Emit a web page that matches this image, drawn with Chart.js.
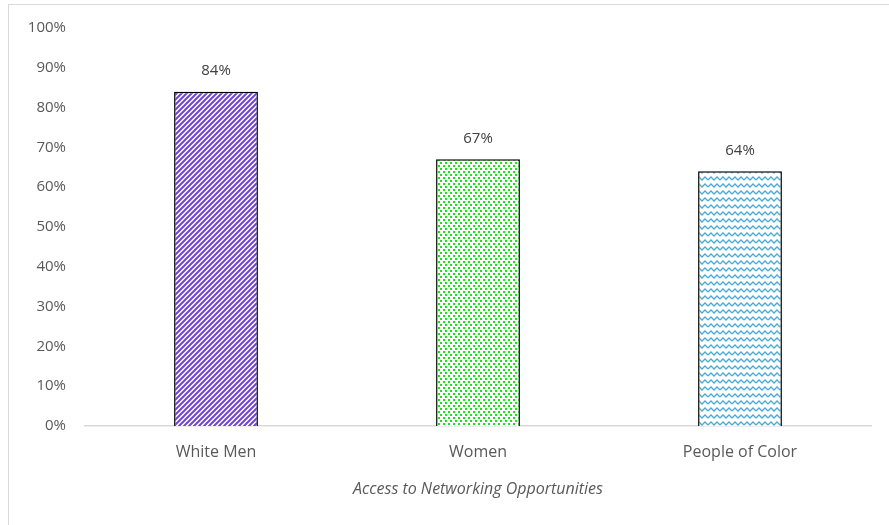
<!DOCTYPE html>
<html>
<head>
<meta charset="utf-8">
<script src="https://cdn.jsdelivr.net/npm/chart.js@4"></script>
<style>
  body { margin: 0; background: #fff; }
  #wrap { position: relative; width: 889px; height: 525px; overflow: hidden; }
  #frame { position: absolute; left: 8px; top: 4px; width: 900px; height: 600px; border: 1px solid #d9d9d9; }
  #chart { position: absolute; left: 0; top: 0; }
</style>
</head>
<body>
<div id="wrap">
  <div id="frame"></div>
  <canvas id="chart" width="889" height="525"></canvas>
</div>
<script>
var categories = ['White Men', 'Women', 'People of Color'];
var shares = [84, 67, 64];
var yTicks = [0, 10, 20, 30, 40, 50, 60, 70, 80, 90, 100];
var axisTitle = 'Access to Networking Opportunities';

var textColor = '#595959';
var fontFamily = '"Open Sans", sans-serif';

// excel style fill patterns
function makeTile(w, h, paint) {
    var c = document.createElement('canvas');
    c.width = w;
    c.height = h;
    var g = c.getContext('2d');
    g.fillStyle = '#fff';
    g.fillRect(0, 0, w, h);
    paint(g);
    return document.getElementById('chart').getContext('2d').createPattern(c, 'repeat');
}

var stripes = makeTile(5, 5, function (g) {
    g.strokeStyle = '#6f45d6';
    g.lineWidth = 2;
    g.beginPath();
    g.moveTo(-1, 6); g.lineTo(6, -1);
    g.moveTo(-1, 1); g.lineTo(1, -1);
    g.moveTo(4, 6); g.lineTo(6, 4);
    g.stroke();
});

var dots = makeTile(5, 6, function (g) {
    g.fillStyle = '#14e814';
    g.fillRect(0, 0, 2, 2);
    g.fillRect(3, 3, 2, 2);
});

var waves = makeTile(12, 7, function (g) {
    g.strokeStyle = '#4aaad6';
    g.lineWidth = 1.3;
    g.beginPath();
    g.moveTo(0, 5);
    g.lineTo(3, 2);
    g.lineTo(6, 5);
    g.lineTo(9, 2);
    g.lineTo(12, 5);
    g.stroke();
});

var barLabels = {
    id: 'barLabels',
    afterDatasetsDraw: function (chart) {
        var ctx = chart.ctx;
        var meta = chart.getDatasetMeta(0);
        ctx.save();
        ctx.fillStyle = '#404040';
        ctx.font = '15px ' + fontFamily;
        ctx.textAlign = 'center';
        ctx.textBaseline = 'middle';
        meta.data.forEach(function (bar, i) {
            ctx.fillText(shares[i] + '%', bar.x, bar.y - 21);
        });
        ctx.restore();
    }
};

new Chart(document.getElementById('chart'), {
    type: 'bar',
    data: {
        labels: categories,
        datasets: [{
            data: shares,
            backgroundColor: [stripes, dots, waves],
            borderColor: '#000',
            borderWidth: 1.5,
            categoryPercentage: 1,
            barPercentage: 0.32
        }]
    },
    options: {
        responsive: false,
        animation: false,
        layout: { padding: { top: 27, right: 18, left: 0, bottom: 0 } },
        plugins: {
            legend: { display: false },
            tooltip: { enabled: false }
        },
        scales: {
            x: {
                grid: { display: false },
                border: { display: true, color: '#d9d9d9', width: 1.5 },
                ticks: {
                    color: textColor,
                    font: { family: fontFamily, size: 16 },
                    padding: 9
                },
                title: {
                    display: true,
                    text: axisTitle,
                    color: textColor,
                    font: { family: fontFamily, size: 16, style: 'italic' },
                    padding: { top: 0, bottom: 26 }
                },
                afterFit: function (scale) { scale.height = 99; }
            },
            y: {
                min: 0,
                max: 100,
                afterBuildTicks: function (scale) {
                    scale.ticks = yTicks.map(function (v) { return { value: v }; });
                },
                grid: { display: false, drawTicks: false },
                border: { display: false },
                ticks: {
                    color: textColor,
                    font: { family: fontFamily, size: 15 },
                    padding: 19,
                    callback: function (v) { return v + '%'; }
                },
                afterFit: function (scale) { scale.width = 85; }
            }
        }
    },
    plugins: [barLabels]
});
</script>
</body>
</html>
